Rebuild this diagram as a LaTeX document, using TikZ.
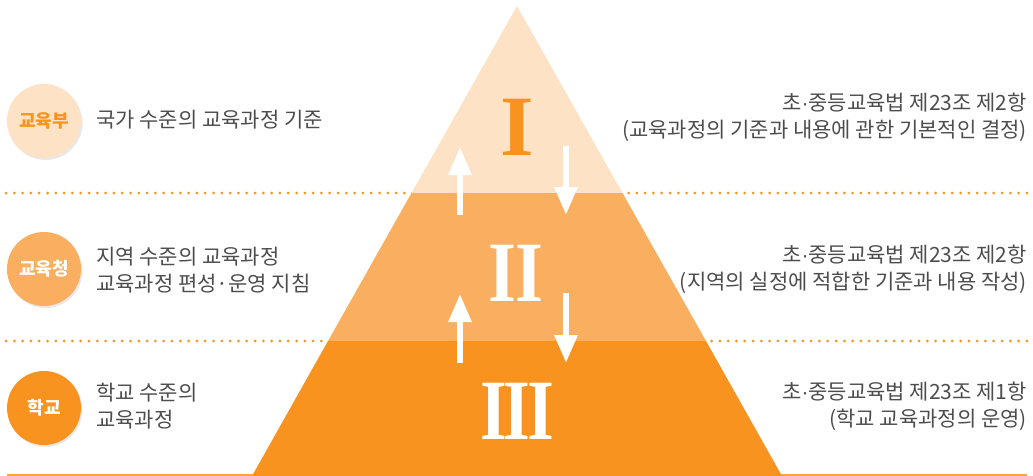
\documentclass[tikz,border=0pt]{standalone}
\usepackage{fontspec}
\setmainfont{Liberation Serif}
\newfontfamily\kr{Noto Sans CJK KR}
\newfontfamily\latinsans{Liberation Sans}
\usetikzlibrary{arrows.meta,shadows}

\definecolor{peach}{HTML}{FDE2C5}
\definecolor{midorange}{HTML}{F9AF5F}
\definecolor{deeporange}{HTML}{F7931E}
\definecolor{lineorange}{HTML}{F9A640}
\definecolor{textgray}{HTML}{4D4D4D}
\newcommand{\tightdot}{{\latinsans\char"00B7}}

\begin{document}
\begin{tikzpicture}[x=1pt,y=-1pt,
    level/.style={circle, minimum size=74pt, inner sep=0pt,
        font=\kr\bfseries\fontsize{18}{18}\selectfont,
        drop shadow={opacity=0.18, shadow xshift=1.5pt, shadow yshift=-2pt}},
    desc/.style={font=\kr\fontsize{21}{27}\selectfont, text=textgray, inner sep=0pt},
    numeral/.style={font=\bfseries\fontsize{86}{86}\selectfont, inner sep=0pt},
    flow/.style={white, line width=6pt, -{Triangle[width=22pt,length=28pt]}},
    sep/.style={deeporange, line width=3pt, line cap=round, dash pattern=on 0pt off 8.3pt}]
    \useasboundingbox (0,0) rectangle (1033,476);
    % separators behind the pyramid
    \draw[sep] (6,193) -- (1028,193);
    \draw[sep] (6,341) -- (1028,341);
    \draw[lineorange, line width=2pt] (7,474.5) -- (1027,474.5);
    % pyramid
    \coordinate (apex) at (517,6);
    \coordinate (tl) at (411.5,193);
    \coordinate (tr) at (622.5,193);
    \coordinate (ml) at (328,341);
    \coordinate (mr) at (706,341);
    \coordinate (bl) at (252,476);
    \coordinate (br) at (782,476);
    \fill[peach] (apex) -- (tr) -- (tl) -- cycle;
    \fill[midorange] (tl) -- (tr) -- (mr) -- (ml) -- cycle;
    \fill[deeporange] (ml) -- (mr) -- (br) -- (bl) -- cycle;
    \node[numeral, text=deeporange] (one) at (517,127) {I};
    \node[numeral, text=white] (two) at (516,273) {\scalebox{0.83}[1]{I\kern-1pt I}};
    \node[numeral, text=white] (three) at (517,411) {\scalebox{0.8}[1]{I\kern-4pt I\kern-4pt I}};
    % up and down arrows
    \coordinate (upa) at (460,215);
    \coordinate (upb) at (460,147);
    \coordinate (downa) at (566,146);
    \coordinate (downb) at (566,215);
    \coordinate (upc) at (460,363);
    \coordinate (upd) at (460,294);
    \coordinate (downc) at (566,293);
    \coordinate (downd) at (566,363);
    \draw[flow] (upa) -- (upb);
    \draw[flow] (downa) -- (downb);
    \draw[flow] (upc) -- (upd);
    \draw[flow] (downc) -- (downd);
    % levels on the left
    \node[level, fill=peach, text=deeporange] (ministry) at (44,121) {교육부};
    \node[level, fill=midorange, text=white] (office) at (44,269) {교육청};
    \node[level, fill=deeporange, text=white] (school) at (44,408) {학교};
    \node[desc, anchor=west, align=left] (ministrytext) at (96,120) {국가 수준의 교육과정 기준};
    \node[desc, anchor=west, align=left] (officetext) at (96,270) {지역 수준의 교육과정\\교육과정 편성·운영 지침};
    \node[desc, anchor=west, align=left] (schooltext) at (96,406) {학교 수준의\\교육과정};
    % law references on the right
    \node[desc, anchor=east, align=right] (lawone) at (1027,117) {초\tightdot 중등교육법 제23조 제2항\\(교육과정의 기준과 내용에 관한 기본적인 결정)};
    \node[desc, anchor=east, align=right] (lawtwo) at (1027,269) {초\tightdot 중등교육법 제23조 제2항\\(지역의 실정에 적합한 기준과 내용 작성)};
    \node[desc, anchor=east, align=right] (lawthree) at (1027,406) {초\tightdot 중등교육법 제23조 제1항\\(학교 교육과정의 운영)};
\end{tikzpicture}
\end{document}
